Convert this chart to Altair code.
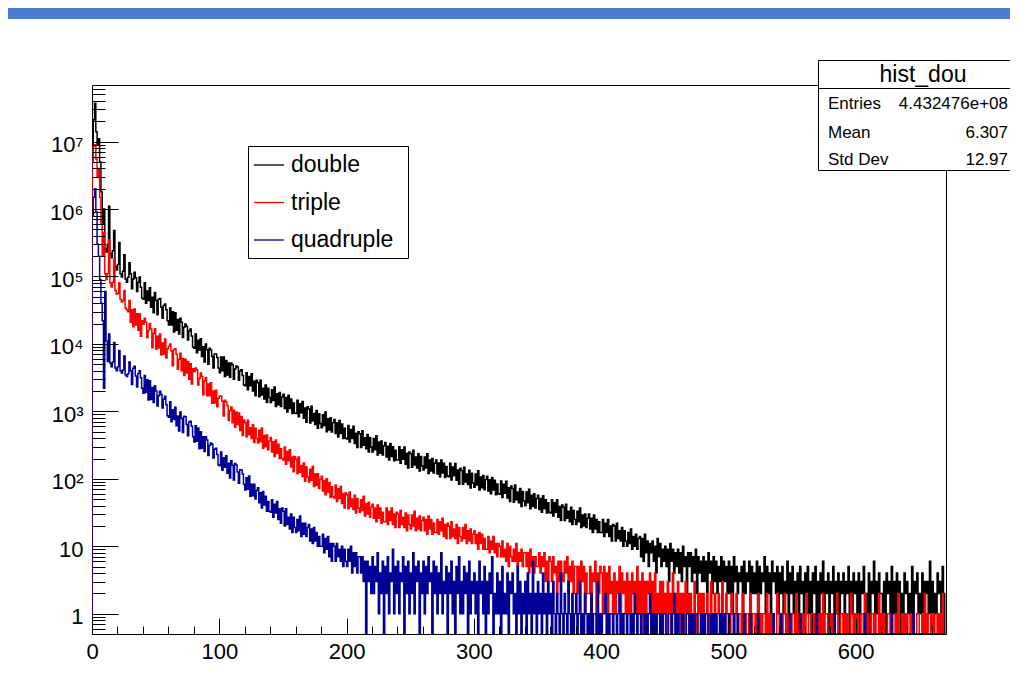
import altair as alt
import pandas as pd

FONT = "Liberation Sans"
x_max = 671
y_min = 0.5
y_max = 6.9e7

series_names = ["double", "triple", "quadruple"]
series_colors = ["#000000", "#ff0000", "#000099"]

double = [
    9000000, 21000000, 37000000, 14000000, 9000000, 11000000, 5000000, 1800000, 600000, 1000000,
    260000, 230000, 300000, 1100000, 220000, 190000, 240000, 480000, 140000, 125000,
    150000, 320000, 110000, 98000, 120000, 210000, 92000, 82000, 97000, 160000,
    110000, 66000, 92000, 115000, 96000, 60000, 82000, 98000, 69000, 48000,
    46000, 81000, 40000, 61000, 44000, 68000, 35000, 49000, 29000, 58000,
    44000, 27000, 46000, 47000, 35000, 24000, 37000, 39000, 32000, 22000,
    19000, 34000, 19000, 30000, 15000, 29000, 16000, 23000, 14000, 24000,
    21000, 12400, 17600, 19800, 18300, 11400, 15500, 16700, 13100, 9000,
    8600, 14000, 7400, 11300, 8100, 11900, 6500, 9100, 5400, 10000,
    8200, 5000, 8600, 8100, 6500, 4400, 7100, 7100, 6300, 4400,
    3750, 6400, 4000, 6400, 3300, 5700, 3450, 5200, 3200, 5200,
    4900, 3000, 4250, 4700, 4550, 2900, 3950, 4150, 3400, 2450,
    2400, 3750, 2100, 3300, 2400, 3600, 2000, 2800, 1700, 2900,
    2650, 1650, 2900, 1750, 2200, 1520, 2450, 1350, 2200, 1600,
    1350, 2100, 1450, 2300, 1180, 1820, 1250, 1900, 1180, 1630,
    1800, 1100, 1600, 980, 1730, 1100, 1520, 930, 1330, 940,
    930, 1460, 830, 1300, 950, 1400, 790, 1120, 690, 1170,
    1080, 670, 1190, 720, 930, 640, 1030, 560, 920, 660,
    570, 890, 610, 980, 500, 775, 530, 805, 495, 680,
    760, 470, 680, 415, 730, 470, 650, 395, 560, 400,
    390, 615, 350, 540, 395, 600, 335, 475, 290, 500,
    465, 290, 515, 315, 405, 280, 455, 250, 410, 295,
    250, 395, 270, 435, 225, 350, 240, 365, 225, 310,
    345, 210, 305, 190, 335, 215, 300, 185, 265, 190,
    190, 300, 170, 270, 195, 295, 165, 240, 145, 250,
    235, 148, 265, 160, 210, 145, 235, 130, 215, 155,
    135, 210, 145, 235, 120, 190, 130, 200, 122, 170,
    190, 118, 172, 107, 190, 122, 170, 105, 152, 110,
    107, 170, 96, 150, 111, 168, 95, 135, 83, 143,
    133, 83, 148, 90, 118, 82, 134, 73, 121, 87,
    75, 118, 81, 132, 68, 106, 74, 112, 69, 97,
    109, 66, 97, 60, 105, 68, 95, 58, 84, 60,
    59, 93, 53, 83, 61, 92, 52, 74, 46, 78,
    72, 45, 81, 49, 64, 44, 72, 39, 65, 47,
    40, 64, 44, 70, 36, 57, 39, 60, 37, 51,
    57, 35, 51, 32, 56, 36, 49, 31, 44, 32,
    31, 49, 28, 44, 32, 49, 27, 39, 24, 41,
    38, 24, 42, 26, 33, 23, 38, 21, 34, 25,
    21, 33, 23, 37, 19, 29, 20, 30, 19, 26,
    30, 18, 26, 16, 29, 18, 25, 16, 23, 16,
    16, 25, 14, 22, 16, 25, 14, 20, 12, 21,
    20, 12, 22, 13, 17, 12, 19, 10, 17, 12,
    10, 16, 11, 18, 9, 14, 10, 15, 9, 13,
    14, 7, 13, 6, 15, 8, 12, 5, 11, 8,
    12, 6, 10, 4, 13, 7, 11, 5, 9, 6,
    10, 5, 9, 3, 11, 6, 9, 4, 8, 5,
    9, 4, 8, 3, 10, 5, 7, 2, 8, 5,
    8, 3, 7, 4, 9, 2, 7, 4, 6, 3,
    7, 3, 6, 2, 8, 4, 6, 2, 7, 3,
    6, 2, 5, 3, 7, 1, 6, 3, 5, 2,
    6, 2, 5, 1, 7, 3, 5, 2, 4, 3,
    5, 1, 6, 2, 4, 3, 6, 1, 5, 2,
    4, 2, 6, 1, 5, 2, 4, 3, 7, 1,
    5, 2, 4, 1, 6, 3, 4, 2, 5, 1,
    4, 2, 5, 1, 3, 2, 6, 1, 4, 2,
    5, 1, 3, 2, 4, 1, 5, 2, 3, 1,
    4, 2, 5, 1, 3, 0, 4, 2, 5, 1,
    3, 1, 4, 2, 6, 1, 3, 2, 4, 0,
    3, 2, 5, 1, 3, 1, 4, 0, 3, 2,
    4, 1, 3, 2, 5, 0, 3, 1, 4, 2,
    3, 1, 4, 0, 3, 2, 5, 1, 2, 1,
    4, 0, 3, 2, 6, 1, 3, 1, 4, 2,
    2, 1, 3, 0, 4, 2, 3, 1, 5, 1,
    3, 1, 4, 2, 3, 0, 2, 1, 4, 2,
    3, 1, 2, 0, 5, 1, 3, 2, 4, 1,
    2, 1, 4, 0, 3, 2, 3, 1, 6, 1,
    3, 0, 2, 1, 4, 2, 3, 1, 5, 2,
]

triple = [
    5000000, 8500000, 9000000, 5500000, 3000000, 4000000, 1500000, 600000, 200000, 450000,
    110000, 90000, 110000, 350000, 80000, 70000, 82000, 180000, 62000, 55000,
    56000, 80000, 46000, 42000, 44000, 62000, 34000, 32000, 30000, 44000,
    21000, 32000, 18000, 33000, 19000, 28000, 16000, 28000, 13000, 22000,
    19500, 24000, 21000, 12500, 15800, 20000, 16600, 8800, 14300, 16800,
    8400, 13000, 8700, 14000, 6900, 10300, 7000, 11800, 6200, 8500,
    9200, 10000, 7900, 4750, 8250, 8500, 7000, 4200, 5900, 7300,
    4000, 6100, 3400, 5900, 3700, 5500, 3000, 5100, 2550, 4300,
    3900, 4400, 4150, 2450, 3100, 3700, 3300, 1770, 2850, 3150,
    1700, 2550, 1700, 2650, 1320, 2000, 1330, 2050, 1170, 1560,
    1690, 1680, 1410, 850, 1460, 1390, 1220, 730, 1020, 1160,
    680, 1040, 580, 980, 640, 945, 520, 840, 440, 745,
    680, 420, 740, 450, 570, 395, 635, 345, 560, 395,
    340, 525, 355, 565, 285, 440, 300, 445, 270, 365,
    410, 250, 355, 215, 375, 240, 325, 200, 280, 200,
    190, 295, 165, 255, 185, 270, 150, 210, 127, 215,
    195, 120, 210, 125, 158, 108, 172, 92, 150, 106,
    90, 139, 95, 152, 77, 118, 80, 119, 72, 98,
    109, 66, 94, 58, 100, 64, 88, 53, 76, 54,
    52, 81, 46, 71, 51, 77, 43, 60, 37, 62,
    58, 36, 64, 39, 50, 35, 57, 31, 51, 37,
    32, 49, 34, 55, 28, 43, 30, 45, 27, 38,
    42, 26, 37, 23, 41, 26, 37, 22, 32, 23,
    23, 37, 21, 33, 24, 37, 21, 30, 19, 32,
    30, 19, 34, 21, 27, 19, 31, 17, 29, 21,
    18, 29, 20, 33, 17, 26, 18, 28, 17, 24,
    27, 17, 25, 15, 28, 18, 25, 15, 22, 16,
    16, 25, 15, 23, 17, 26, 14, 21, 13, 22,
    20, 13, 23, 14, 18, 13, 21, 11, 19, 14,
    12, 19, 13, 21, 11, 17, 12, 18, 11, 15,
    17, 11, 15, 9, 16, 11, 15, 9, 13, 9,
    9, 14, 8, 12, 9, 14, 8, 11, 7, 11,
    10, 7, 12, 7, 9, 6, 11, 5, 10, 7,
    6, 9, 6, 11, 5, 8, 6, 9, 5, 8,
    8, 5, 8, 4, 9, 5, 7, 4, 7, 5,
    5, 8, 4, 7, 5, 8, 3, 6, 3, 7,
    6, 3, 7, 4, 5, 2, 6, 3, 6, 4,
    3, 6, 4, 7, 2, 5, 3, 6, 2, 5,
    5, 2, 5, 1, 6, 3, 5, 1, 4, 2,
    2, 5, 1, 4, 3, 6, 1, 4, 2, 5,
    4, 1, 5, 2, 4, 1, 5, 2, 3, 1,
    4, 1, 3, 2, 5, 0, 4, 2, 3, 1,
    4, 1, 3, 0, 4, 2, 3, 1, 5, 1,
    3, 1, 4, 0, 3, 1, 3, 2, 4, 0,
    3, 1, 4, 0, 2, 1, 3, 0, 3, 1,
    2, 0, 3, 1, 2, 0, 4, 1, 2, 0,
    3, 0, 2, 1, 2, 0, 3, 1, 2, 0,
    2, 1, 0, 3, 1, 0, 2, 1, 2, 0,
    2, 0, 1, 2, 0, 1, 3, 0, 1, 2,
    0, 1, 2, 1, 0, 3, 1, 0, 2, 1,
    1, 0, 2, 1, 0, 1, 2, 0, 1, 1,
    0, 2, 1, 0, 1, 1, 0, 2, 0, 1,
    1, 0, 1, 2, 0, 1, 0, 1, 1, 0,
    2, 0, 1, 0, 1, 1, 0, 0, 2, 1,
    0, 1, 0, 1, 2, 0, 1, 0, 1, 0,
    1, 1, 0, 2, 0, 1, 0, 1, 0, 1,
    0, 2, 1, 0, 0, 1, 1, 0, 1, 0,
    1, 0, 1, 0, 2, 0, 1, 1, 0, 0,
    1, 0, 1, 0, 1, 2, 0, 0, 1, 1,
    0, 1, 0, 1, 0, 0, 2, 1, 0, 1,
    0, 1, 0, 0, 1, 1, 0, 2, 0, 1,
    0, 0, 1, 1, 0, 1, 0, 0, 2, 0,
    1, 0, 1, 0, 0, 1, 1, 0, 1, 0,
    0, 1, 0, 2, 0, 0, 1, 0, 1, 0,
    1, 0, 0, 1, 0, 1, 0, 0, 1, 1,
    0, 0, 1, 0, 2, 0, 1, 0, 0, 1,
    0, 1, 0, 0, 1, 0, 1, 0, 2, 0,
]

quadruple = [
    800000, 1500000, 2000000, 900000, 300000, 200000, 90000, 40000, 22000, 2200,
    60000, 11000, 5500, 14000, 5200, 4600, 5400, 10500, 4400, 4000,
    4600, 8000, 4000, 3700, 4100, 6600, 3500, 3300, 3600, 5400,
    4000, 2500, 4350, 4650, 3350, 2300, 3650, 4000, 3150, 2200,
    1850, 3400, 1900, 2950, 1480, 2850, 1500, 2250, 1350, 2400,
    2000, 1200, 1700, 1990, 1780, 1120, 1510, 1680, 1250, 860,
    820, 1390, 700, 1060, 760, 1150, 610, 850, 510, 980,
    790, 485, 845, 830, 640, 435, 695, 715, 600, 420,
    350, 610, 360, 565, 280, 500, 285, 420, 255, 420,
    375, 222, 313, 340, 325, 204, 274, 285, 229, 160,
    156, 250, 134, 206, 148, 220, 121, 170, 103, 185,
    159, 96, 168, 160, 126, 86, 136, 135, 118, 83,
    68, 104, 70, 110, 55, 83, 56, 83, 50, 67,
    74, 44, 62, 37, 65, 41, 55, 33, 46, 33,
    32, 49, 27, 42, 31, 46, 25, 36, 22, 37,
    33, 20, 36, 21, 27, 18, 30, 16, 27, 19,
    16, 25, 17, 28, 14, 22, 15, 22, 14, 19,
    21, 12, 18, 11, 19, 12, 16, 10, 14, 10,
    10, 15, 8, 13, 9, 14, 7, 11, 6, 11,
    10, 6, 11, 7, 9, 6, 10, 5, 9, 6,
    5, 9, 6, 10, 4, 8, 5, 8, 4, 7,
    7, 4, 7, 3, 6, 0, 6, 3, 5, 2,
    7, 2, 5, 3, 8, 1, 4, 2, 6, 0,
    5, 2, 7, 1, 4, 3, 9, 1, 5, 2,
    6, 1, 4, 3, 7, 0, 5, 2, 6, 1,
    4, 2, 8, 1, 5, 3, 6, 0, 4, 2,
    6, 1, 5, 2, 7, 3, 4, 0, 6, 2,
    5, 1, 4, 2, 8, 1, 3, 2, 5, 0,
    4, 2, 6, 1, 3, 0, 5, 2, 7, 1,
    3, 1, 5, 2, 4, 0, 6, 1, 3, 2,
    4, 1, 3, 0, 6, 2, 3, 1, 5, 0,
    3, 1, 4, 2, 7, 0, 2, 1, 4, 1,
    3, 0, 5, 1, 2, 1, 4, 0, 3, 2,
    4, 1, 2, 0, 5, 1, 3, 0, 2, 1,
    3, 0, 4, 1, 2, 0, 6, 1, 2, 0,
    3, 1, 2, 0, 4, 1, 2, 0, 3, 1,
    2, 0, 3, 1, 0, 2, 1, 0, 4, 1,
    0, 2, 1, 0, 3, 1, 0, 2, 0, 1,
    2, 0, 1, 3, 0, 1, 0, 2, 1, 0,
    1, 0, 2, 0, 1, 1, 0, 3, 0, 1,
    0, 1, 1, 2, 0, 1, 0, 1, 1, 0,
    1, 1, 0, 1, 2, 0, 1, 0, 1, 1,
    0, 1, 1, 0, 1, 0, 2, 1, 0, 1,
    1, 0, 1, 1, 0, 1, 0, 1, 2, 0,
    1, 0, 1, 0, 1, 1, 0, 1, 0, 1,
    1, 0, 0, 1, 1, 0, 1, 2, 0, 1,
    0, 1, 1, 0, 1, 0, 0, 1, 1, 0,
    1, 0, 1, 0, 1, 1, 0, 0, 1, 0,
    1, 0, 1, 1, 0, 0, 1, 0, 1, 0,
    1, 0, 0, 1, 0, 1, 0, 1, 0, 0,
    1, 0, 0, 0, 1, 0, 0, 1, 0, 0,
    0, 0, 1, 0, 0, 0, 0, 1, 0, 0,
    0, 0, 0, 1, 0, 0, 0, 0, 0, 0,
    0, 0, 0, 0, 0, 1, 0, 0, 0, 0,
    0, 1, 0, 0, 0, 0, 0, 0, 1, 0,
    0, 0, 0, 0, 0, 0, 1, 0, 0, 0,
    0, 0, 0, 0, 0, 0, 0, 0, 0, 1,
    0, 0, 0, 0, 0, 0, 0, 0, 0, 0,
    0, 0, 0, 1, 0, 0, 0, 0, 0, 0,
    0, 0, 0, 0, 0, 0, 0, 0, 0, 0,
    0, 0, 0, 0, 0, 0, 0, 1, 0, 0,
    0, 0, 0, 0, 0, 0, 0, 0, 0, 0,
    0, 0, 0, 0, 0, 0, 0, 0, 1, 0,
    0, 0, 0, 0, 0, 0, 0, 0, 0, 0,
    0, 0, 0, 0, 0, 1, 0, 0, 0, 0,
    0, 0, 0, 0, 0, 0, 0, 0, 0, 0,
    0, 0, 0, 0, 0, 0, 0, 0, 0, 0,
]

x_major = [0, 100, 200, 300, 400, 500, 600]
x_minor = [v for v in range(0, 680, 20) if v % 100 != 0]
y_major = [1, 10, 100, 1000, 10000, 100000, 1000000, 10000000]
y_minor = [m * 10.0 ** e for e in range(-1, 8) for m in range(2, 10)
           if y_min <= m * 10.0 ** e <= y_max]
superscripts = ["", "", "\u00b2", "\u00b3", "\u2074", "\u2075", "\u2076", "\u2077"]

stats_title = "hist_dou"
stats_labels = ["Entries", "Mean", "Std Dev"]
stats_values = ["4.432476e+08", "6.307", "12.97"]

# histogram outline points (bin low edges, ROOT style outline)
rows = []
for name, vals in zip(series_names, [double, triple, quadruple]):
    n = len(vals)
    rows.append(dict(series=name, x=0, v=0, i=0))
    for k, val in enumerate(vals):
        rows.append(dict(series=name, x=k, v=val, i=k + 1))
    rows.append(dict(series=name, x=n, v=vals[-1], i=n + 1))
    rows.append(dict(series=name, x=n, v=0, i=n + 2))
df = pd.DataFrame(rows)

xscale = alt.Scale(domain=[0, x_max], nice=False, zero=False)
yscale = alt.Scale(type="log", domain=[y_min, y_max], nice=False)

sup_js = "[" + ",".join("'" + s + "'" for s in superscripts) + "]"
label_expr = ("datum.value < 5 ? '1' : datum.value < 50 ? '10' : '10' + "
              + sup_js + "[round(log(datum.value) / LN10)]")

axis_common = dict(domain=False, grid=False, title=None, tickColor="black",
                   tickWidth=1, zindex=1, labelColor="black", labelFont=FONT)

x_axis_major = alt.Axis(orient="bottom", values=x_major, tickSize=16, offset=-16,
                        labelFontSize=22, labelPadding=7, labelFlush=False,
                        labelOverlap=False, format="d", **axis_common)
x_axis_minor = alt.Axis(orient="bottom", values=x_minor, tickSize=8, offset=-8,
                        labels=False, **axis_common)
y_axis_major = alt.Axis(orient="left", values=y_major, tickSize=26, offset=-26,
                        labelFontSize=22, labelPadding=9, labelFlush=False,
                        labelOverlap=False, labelExpr=label_expr, labelOffset=3,
                        **axis_common)
y_axis_minor = alt.Axis(orient="left", values=y_minor, tickSize=13, offset=-13,
                        labels=False, **axis_common)

legend = alt.Legend(title=None, orient="none", legendX=161, legendY=64,
                    symbolType="stroke", symbolSize=900, symbolStrokeWidth=1.3,
                    labelFont=FONT, labelFontSize=23, labelColor="black",
                    labelOffset=6, rowPadding=9.5, padding=0, labelLimit=300)
color = alt.Color("series:N", scale=alt.Scale(domain=series_names, range=series_colors),
                  legend=legend)


def hist_layer(name, xaxis, yaxis):
    return (
        alt.Chart(df)
        .transform_filter(alt.datum.series == name)
        .transform_calculate(yv="max(datum.v, 0.5)")
        .mark_line(interpolate="step-after", strokeWidth=1.5, clip=True)
        .encode(
            x=alt.X("x:Q", scale=xscale, axis=xaxis),
            y=alt.Y("yv:Q", scale=yscale, axis=yaxis),
            color=color,
            order=alt.Order("i:Q"),
        )
    )


one = pd.DataFrame({"k": [0]})


def rect(x, x2, y, y2, fill, stroke=None):
    kw = dict(fill=fill)
    if stroke:
        kw.update(stroke=stroke, strokeWidth=1)
    return alt.Chart(one).mark_rect(**kw).encode(
        x=alt.value(x), x2=alt.value(x2), y=alt.value(y), y2=alt.value(y2))


def txt(s, x, y, size, align):
    return alt.Chart(one).mark_text(font=FONT, fontSize=size, color="black",
                                    align=align, baseline="alphabetic").encode(
        x=alt.value(x), y=alt.value(y), text=alt.value(s))


layers = [
    hist_layer("double", x_axis_major, y_axis_major),
    hist_layer("triple", x_axis_minor, y_axis_minor),
    hist_layer("quadruple", None, None),
    rect(156.5, 316.5, 61.5, 173.5, "white", "black"),
    rect(726.5, 940, -24.5, 85.5, "white", "black"),
    alt.Chart(one).mark_rule(color="black", strokeWidth=1).encode(
        x=alt.value(726.5), x2=alt.value(940), y=alt.value(3.5)),
    txt(stats_title, 831, -3.5, 23, "center"),
    rect(-84, 930, -77, -66, "#4a7cd1"),
]
row_y = [24, 52.5, 80]
for lab, val, yy in zip(stats_labels, stats_values, row_y):
    layers.append(txt(lab, 736, yy, 17, "left"))
    layers.append(txt(val, 916, yy, 17, "right"))

chart = (
    alt.layer(*layers)
    .resolve_axis(x="independent", y="independent")
    .properties(
        width=854, height=549,
        autosize=alt.AutoSizeParams(type="none"),
        padding={"left": 84, "top": 77, "right": 64, "bottom": 43},
        background="white",
    )
    .configure_view(stroke="black", strokeWidth=1)
)

chart.save("out.html", embed_options={"renderer": "svg", "actions": False})
